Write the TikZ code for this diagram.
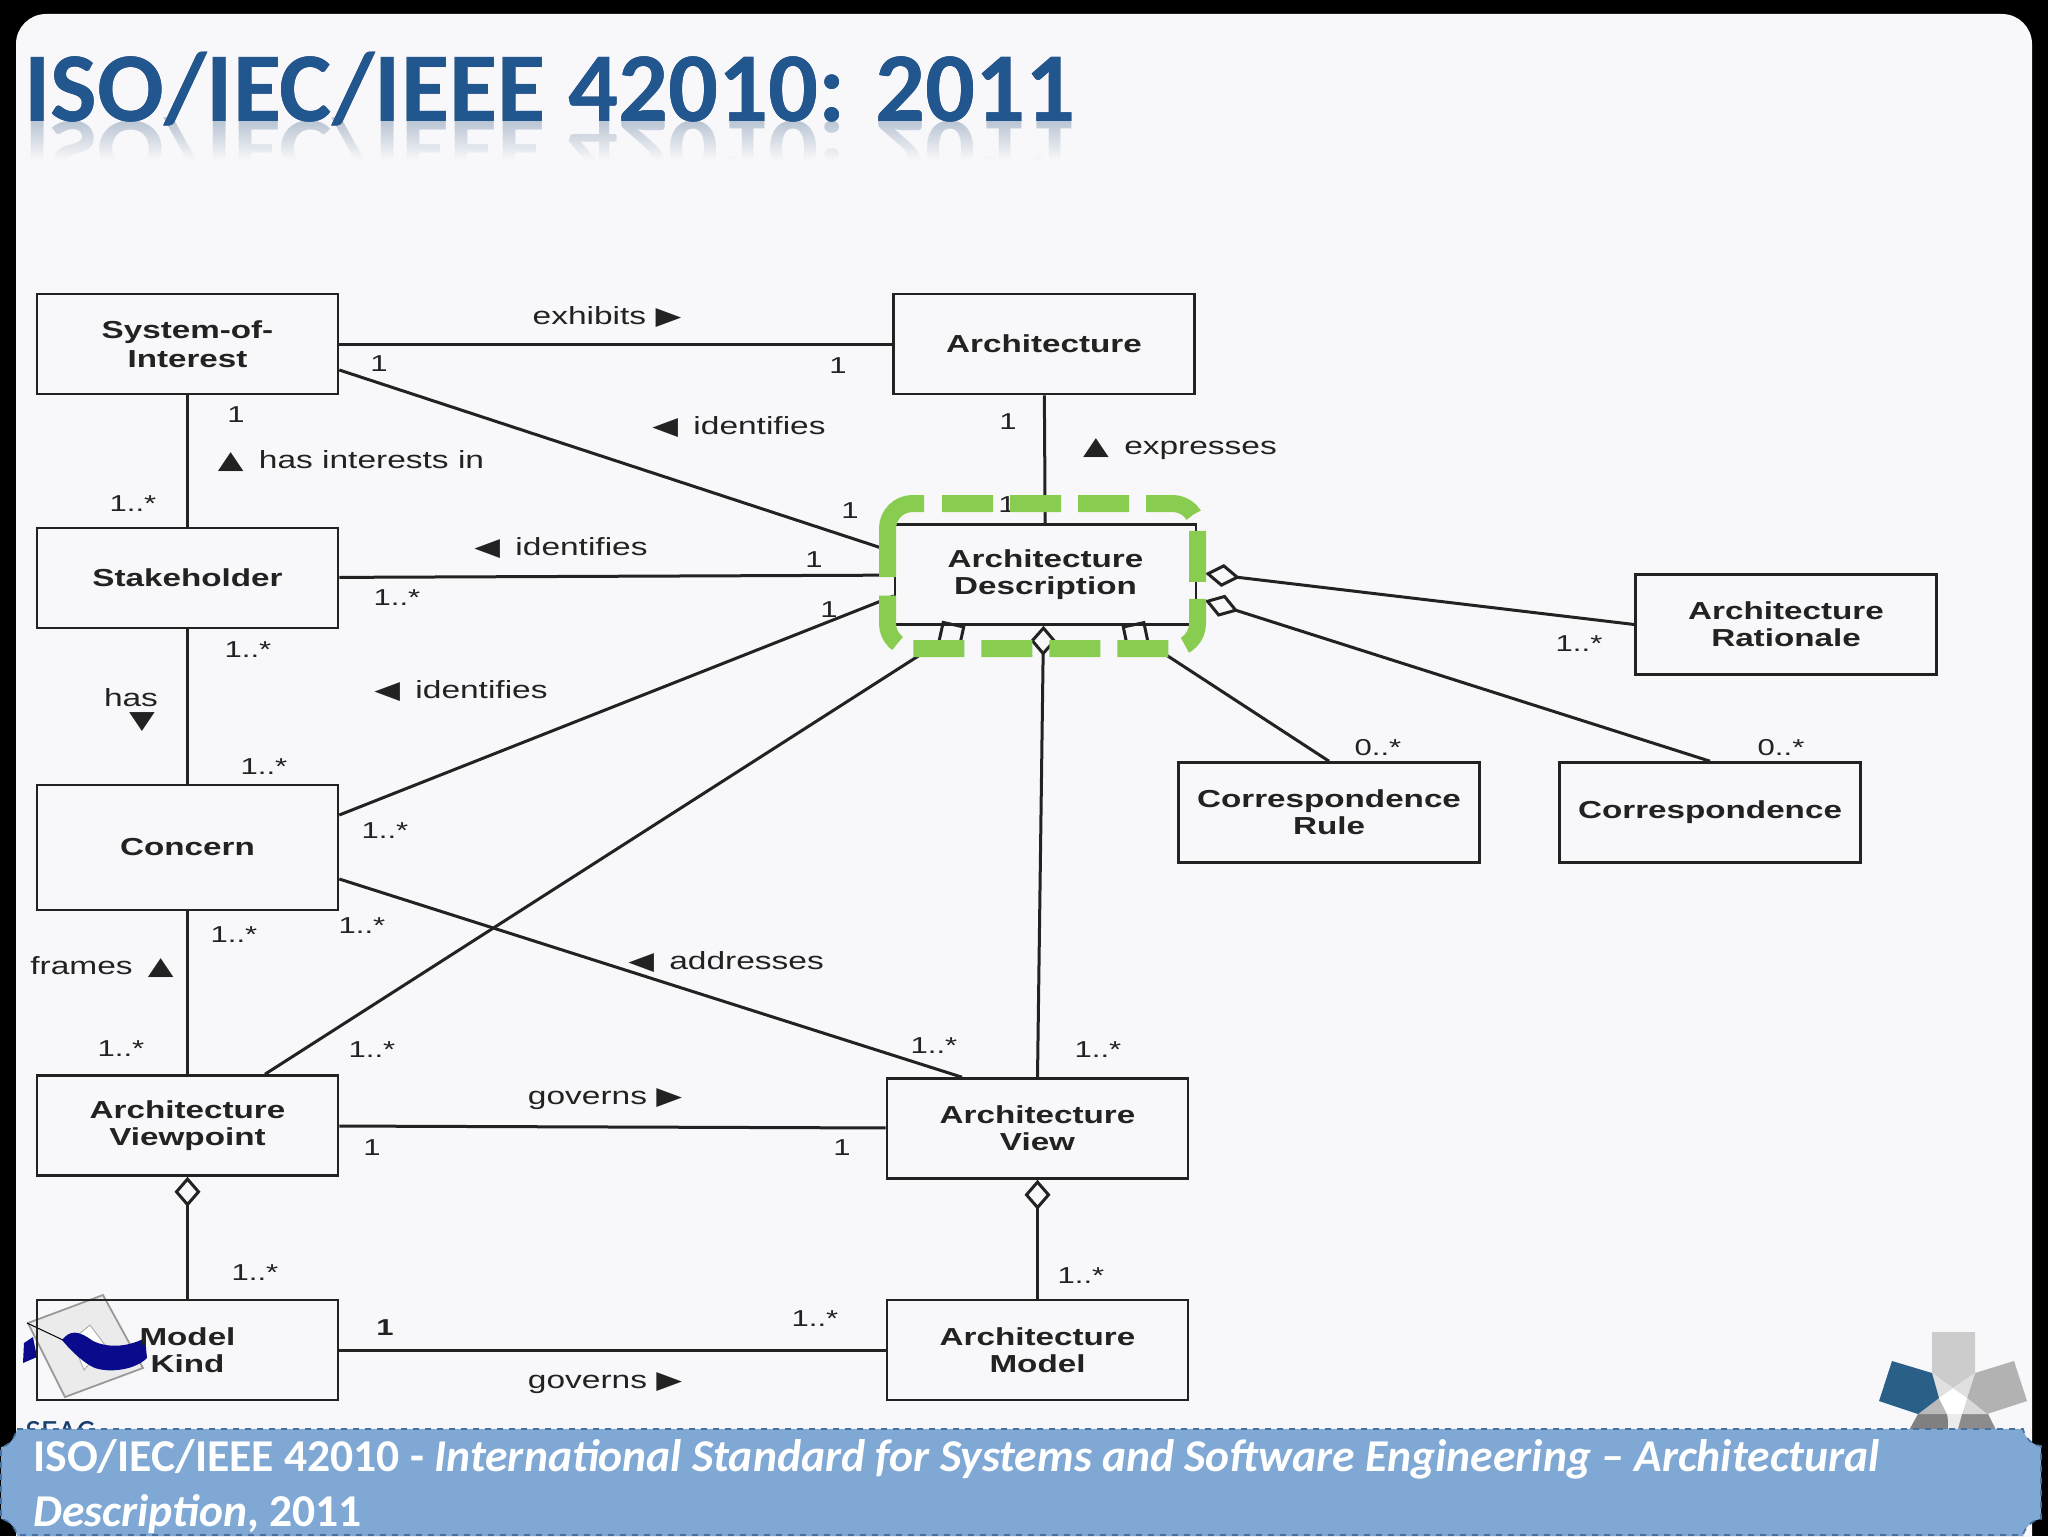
\documentclass[tikz,border=0pt]{standalone}
\usepackage{fontspec}
\usetikzlibrary{arrows.meta,fadings}
\setmainfont{Liberation Sans}
\newfontfamily\lblfont[FakeStretch=1.35]{Liberation Sans}
\newfontfamily\trifont[FakeStretch=1.35]{DejaVu Sans}
\newfontfamily\titlefont{Carlito}
\newcommand{\triR}{{\trifont ▶}}
\newcommand{\triL}{{\trifont ◀}}
\newcommand{\triU}{{\trifont ▲}}
\newcommand{\triD}{{\trifont ▼}}
\definecolor{panelbg}{RGB}{248,248,250}
\definecolor{titleblue}{RGB}{26,62,110}
\definecolor{titleglow}{RGB}{34,86,142}
\definecolor{bannerblue}{RGB}{127,168,212}
\definecolor{bannerline}{RGB}{72,112,160}
\definecolor{hilite}{RGB}{136,204,80}
\definecolor{inkgrey}{RGB}{34,34,34}
\definecolor{starblue}{RGB}{42,95,136}
\definecolor{swooshblue}{RGB}{10,10,140}
\tikzfading[name=titleband,top color=transparent!100,middle color=transparent!0,bottom color=transparent!100]
\begin{document}
\begin{tikzpicture}[x=0.5pt,y=-0.5pt,
  classbox/.style={draw=inkgrey,line width=1.3pt,minimum width=150.5pt,minimum height=50pt,
    inner sep=0pt,align=center,text=inkgrey,font=\lblfont\fontsize{12.3}{13.6}\selectfont\bfseries},
  assoc/.style={draw=inkgrey,line width=1.5pt},
  aggr/.style={assoc,-{Diamond[open,length=15pt,width=13pt]}},
  wideaggr/.style={assoc,-{Diamond[open,length=17pt,width=17pt]}},
  sideaggr/.style={assoc,-{Diamond[open,length=17.5pt,width=11.5pt]},shorten >=4pt},
  rolelabel/.style={inner sep=0pt,yshift=-0.6pt,text=inkgrey,font=\lblfont\fontsize{12.4}{13.6}\selectfont},
  multlabel/.style={inner sep=0pt,text=inkgrey,font=\lblfont\fontsize{11.5}{13}\selectfont}]
\useasboundingbox (0,0) rectangle (2048,1536);

%background and slide
\fill[black] (0,0) rectangle (2048,1536);
\fill[panelbg,rounded corners=15pt] (16,14) rectangle (2032,1600);

%title with reflection
\begin{scope}[shift={(0,121)},yscale=-0.85]
\node[transform shape,anchor=base west,inner sep=0pt,text=titleblue!30,font=\titlefont\fontsize{49.4}{50}\selectfont\bfseries] (titlemirror) at (24,0) {ISO/IEC/IEEE 42010: 2011};
\end{scope}
\fill[panelbg,path fading=north] (16,121) rectangle (1100,160);
\fill[panelbg] (16,160) rectangle (1100,185);
\node[anchor=base west,inner sep=0pt,text=titleblue,font=\titlefont\fontsize{49.4}{50}\selectfont\bfseries] (title) at (24,121) {ISO/IEC/IEEE 42010: 2011};
\begin{scope}[scope fading=titleband,fading transform={shift={(560,90)},xscale=12,yscale=0.4}]
\node[anchor=base west,inner sep=0pt,text=titleglow,font=\titlefont\fontsize{49.4}{50}\selectfont\bfseries] (titlebright) at (24,121) {ISO/IEC/IEEE 42010: 2011};
\end{scope}

%stamp logo, bottom left
\fill[black!8,draw=black!40,line width=0.9pt] (103,1295) -- (28,1323) -- (65,1397) -- (143,1368) -- cycle;
\fill[white,draw=black!30,line width=0.5pt] (90,1325) -- (105,1345) -- (84,1370) -- (72,1340) -- cycle;
\draw[black,line width=0.5pt] (27,1323) -- (63,1340);
\fill[swooshblue] (23,1363) -- (24,1343) -- (33,1337) -- (37,1357) -- cycle;
\fill[swooshblue] (62,1340) .. controls (70,1330) and (78,1330) .. (93,1341) .. controls (110,1349) and (130,1346) .. (145,1338) -- (147,1358) .. controls (135,1370) and (110,1373) .. (95,1368) .. controls (85,1364) and (72,1352) .. (62,1340) -- cycle;

%star logo, bottom right
\fill[black!20] (1932,1332) -- (1975,1332) -- (1975,1373) -- (1953,1388) -- (1932,1373) -- cycle;
\fill[black!30] (2014,1361) -- (2027,1401) -- (1987,1414) -- (1967,1398) -- (1975,1373) -- cycle;
\fill[black!50] (1918,1414) -- (1948,1414) -- (1948,1432) -- (1908,1432) -- cycle;
\fill[black!45] (1959,1414) -- (1988,1414) -- (1997,1432) -- (1957,1432) -- cycle;
\fill[black!12] (1932,1373) -- (1953,1388) -- (1939,1398) -- cycle;
\fill[black!12] (1975,1373) -- (1953,1388) -- (1967,1398) -- cycle;
\fill[black!27] (1939,1398) -- (1947,1414) -- (1918,1414) -- cycle;
\fill[black!15] (1967,1398) -- (1962,1414) -- (1987,1414) -- cycle;
\fill[white] (1953,1389) -- (1967,1398) -- (1962,1414) -- (1947,1414) -- (1939,1398) -- cycle;
\fill[black!8] (1947,1414) -- (1962,1414) -- (1957,1432) -- (1950,1432) -- cycle;
\fill[starblue] (1892,1361) -- (1932,1373) -- (1939,1398) -- (1918,1414) -- (1879,1401) -- cycle;

%class boxes
\node[classbox] (soi) at (187.5,344) {System-of-\\[1pt]Interest};
\node[classbox] (arch) at (1044,344) {Architecture};
\node[classbox] (holder) at (187.5,578) {Stakeholder};
\node[classbox] (archdesc) at (1045.5,574.5) {Architecture\\Description};
\node[classbox,minimum height=62.5pt] (concern) at (187.5,847.5) {Concern};
\node[classbox] (viewpoint) at (187.5,1125.5) {Architecture\\Viewpoint};
\node[classbox] (view) at (1037.5,1128.5) {Architecture\\View};
\node[classbox] (modelkind) at (187.5,1350) {Model\\Kind};
\node[classbox] (model) at (1037.5,1350) {Architecture\\Model};
\node[classbox] (rationale) at (1786,624.5) {Architecture\\Rationale};
\node[classbox] (corrrule) at (1329,812.5) {Correspondence\\Rule};
\node[classbox] (corr) at (1710,812.5) {Correspondence};

%associations
\draw[assoc] (soi) -- (arch);
\draw[assoc] ([yshift=-13pt]soi.east) -- ([yshift=11.25pt]archdesc.west);
\draw[assoc] (holder) -- (archdesc);
\draw[assoc] ([yshift=16.25pt]concern.east) -- ([yshift=-10.75pt]archdesc.west);
\draw[assoc] ([yshift=-15.75pt]concern.east) -- ([xshift=-37.75pt]view.north);
\draw[assoc] (soi) -- (holder);
\draw[assoc] (holder) -- (concern);
\draw[assoc] (concern) -- (viewpoint);
\draw[assoc] (arch) -- (archdesc);
\draw[assoc] (viewpoint) -- (view);
\draw[assoc] (modelkind) -- (model);

%aggregations
\draw[aggr] (modelkind) -- (viewpoint);
\draw[aggr] (model) -- (view);
\draw[aggr] (view.north) -- ([xshift=-1pt]archdesc.south);
\draw[wideaggr] ([xshift=38.75pt]viewpoint.north) -- ([xshift=-40pt]archdesc.south);
\draw[wideaggr] (corrrule.north) -- ([xshift=38pt]archdesc.south);
\draw[sideaggr] (rationale.west) -- ([yshift=1pt]archdesc.east);
\draw[sideaggr] (corr.north) -- ([yshift=-11.75pt]archdesc.east);

%role labels
\node[rolelabel] (exhibits) at (607,316) {exhibits \triR};
\node[rolelabel] (identa) at (739,426) {\triL\hspace{3pt} identifies};
\node[rolelabel] (interests) at (351,460) {\triU\hspace{3pt} has interests in};
\node[rolelabel] (expresses) at (1180,448) {\triU\hspace{3pt} expresses};
\node[rolelabel] (identb) at (561,547) {\triL\hspace{3pt} identifies};
\node[rolelabel] (identc) at (461,690) {\triL\hspace{3pt} identifies};
\node[rolelabel] (has) at (131,696) {has};
\node[rolelabel] (hastri) at (142,721) {\triD};
\node[rolelabel] (frames) at (102,966) {frames\hspace{3pt} \triU};
\node[rolelabel] (addresses) at (726,961) {\triL\hspace{3pt} addresses};
\node[rolelabel] (governsa) at (605,1098) {governs \triR};
\node[rolelabel] (governsb) at (605,1382) {governs \triR};

%multiplicities
\foreach \mx/\my/\mtext [count=\mi] in {379/364/1,838/366/1,236/415/1,133/504/1..*,1008/422/1,850/511/1,1007/505/1,
  814/560/1,397/598/1..*,829/610/1,248/650/1..*,264/767/1..*,385/831/1..*,234/935/1..*,362/926/1..*,
  121/1049/1..*,372/1050/1..*,934/1046/1..*,1098/1050/1..*,372/1148/1,842/1148/1,255/1273/1..*,
  1081/1276/1..*,385/1328/\textbf{1},815/1319/1..*,1579/644/1..*,1378/748/0..*,1781/748/0..*}
  \node[multlabel] (mult\mi) at (\mx,\my) {\mtext};

%highlight round the description box
\draw[hilite,line width=8.5pt,rounded corners=12.5pt,dash pattern=on 25.5pt off 8.5pt]
  (942,503.5) -- (1197.5,503.5) -- (1197.5,648.5) -- (887.5,648.5) -- (887.5,595);
\draw[hilite,line width=8.5pt,rounded corners=12.5pt]
  (887.5,577) -- (887.5,503.5) -- (924,503.5);

%footer
\node[anchor=base west,inner sep=0pt,text=titleblue,font=\titlefont\fontsize{17}{17}\selectfont] (seac) at (25,1443) {SEAC};
\fill[bannerblue] (17,1429) -- (2023,1429) .. controls (2025,1438) and (2032,1445) .. (2041,1446)
  -- (2041,1519) .. controls (2032,1520) and (2025,1527) .. (2023,1536) -- (17,1536)
  .. controls (15,1527) and (9,1520) .. (1,1519) -- (1,1447) .. controls (9,1446) and (15,1438) .. (17,1429) -- cycle;
\draw[bannerline,line width=0.8pt,dashed] (17,1429) -- (2023,1429) .. controls (2025,1438) and (2032,1445) .. (2041,1446)
  -- (2041,1519) .. controls (2032,1520) and (2025,1527) .. (2023,1535) -- (17,1535)
  .. controls (15,1527) and (9,1520) .. (1,1519) -- (1,1447) .. controls (9,1446) and (15,1438) .. (17,1429);
\node[anchor=north west,inner sep=0pt,align=left,text=white,font=\titlefont\fontsize{22.8}{27.5}\selectfont\bfseries] (caption) at (33,1439)
  {ISO/IEC/IEEE 42010 - \textit{International Standard for Systems and Software Engineering – Architectural}\\\textit{Description}, 2011};
\end{tikzpicture}
\end{document}
